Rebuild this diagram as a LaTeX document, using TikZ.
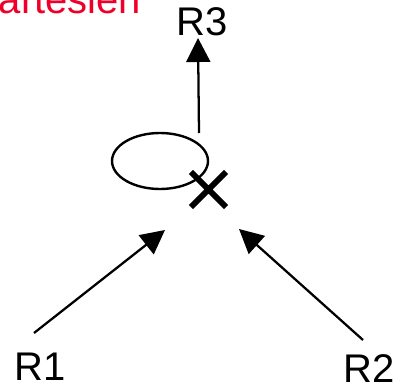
\documentclass[tikz,border=0pt]{standalone}
\usepackage{fontspec}
\setmainfont{Liberation Sans}
\usepackage{xcolor}
\usetikzlibrary{positioning,arrows.meta,shapes.misc}
\definecolor{titlered}{RGB}{240,0,40}

\begin{document}
\begin{tikzpicture}[x=0.75pt,y=-0.75pt,
  >={Triangle[length=18pt,width=18pt]},
  flow/.style={->,line width=1.7pt},
  every node/.style={font=\fontsize{30}{36}\selectfont,inner sep=0pt}]
\useasboundingbox (0,0) rectangle (406,389);
\node[anchor=base west,text=titlered] (title) at (-1.5,13) {artesien};
\node[anchor=base] (R3) at (202.5,35) {R3};
\node[anchor=base] (R1) at (40,380) {R1};
\node[anchor=base] (R2) at (369,382) {R2};
% selection loop and the product mark
\draw[line width=1.8pt] (160,161) ellipse [x radius=48, y radius=28];
\node[cross out,draw,line width=4.3pt,minimum size=22pt] (join) at (208.5,189.5) {};
% arrow ends
\coordinate (from1) at (34,333);
\coordinate (from2) at (363,340);
\coordinate (in1) at (165,230);
\coordinate (in2) at (239,229);
\coordinate (out) at (199,133);
\coordinate (to3) at (198,38);
\draw[flow] (from1) -- (in1);
\draw[flow] (from2) -- (in2);
\draw[flow] (out) -- (to3);
\end{tikzpicture}
\end{document}
